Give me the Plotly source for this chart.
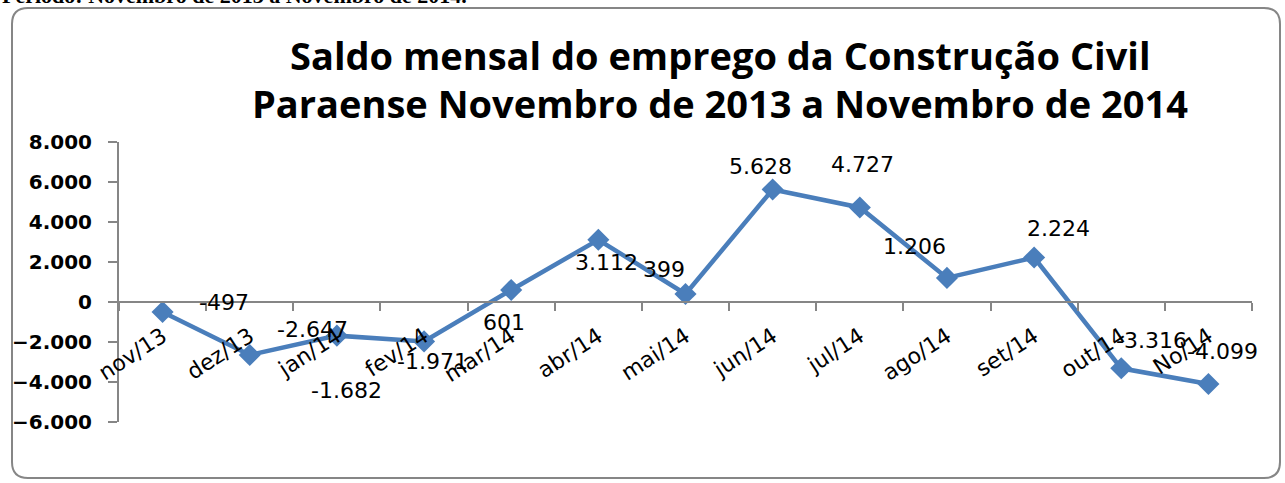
import plotly.graph_objects as go

# dados do grafico
meses = ['nov/13', 'dez/13', 'jan/14', 'fev/14', 'mar/14', 'abr/14', 'mai/14',
         'jun/14', 'jul/14', 'ago/14', 'set/14', 'out/14', 'No/14']
saldo = [-497, -2647, -1682, -1971, 601, 3112, 399, 5628, 4727, 1206, 2224, -3316, -4099]
y_ticks = [-6000, -4000, -2000, 0, 2000, 4000, 6000, 8000]

titulo_1 = 'Saldo mensal do emprego da Construção Civil'
titulo_2 = 'Paraense Novembro de 2013 a Novembro de 2014'
periodo = 'Período: Novembro de 2013 a Novembro de 2014.'

# deslocamento dos rotulos (px, como o Excel deixou)
desloc = [(61, -9), (63, -25), (10, 55), (8, 20), (-7, 33), (8, 23), (-22, -25),
          (-12, -23), (3, -43), (-32, -31), (24, -29), (30, -28), (14, -32)]

W, H = 1285, 483
ml, mr, mt, mb = 119, 33, 142, 61
azul = '#4A7EBB'
cinza = '#868686'


def fmt(v):
    return f'{v:,}'.replace(',', '.')


def px_x(px):
    return (px - ml) / (W - ml - mr)


def px_y(py):
    return (H - mb - py) / (H - mt - mb)


fig = go.Figure()
fig.add_trace(go.Scatter(
    x=meses, y=saldo, mode='lines+markers',
    line=dict(color=azul, width=4.5),
    marker=dict(symbol='diamond', size=17, color=azul),
    showlegend=False, cliponaxis=False))

for m, v, (dx, dy) in zip(meses, saldo, desloc):
    fig.add_annotation(x=m, y=v, text=fmt(v), showarrow=False,
                       xshift=dx, yshift=-dy,
                       font=dict(family='DejaVu Sans', size=22, color='black'))

# titulo em duas linhas
for txt, py in [(titulo_1, 55), (titulo_2, 103)]:
    fig.add_annotation(xref='paper', yref='paper', x=px_x(720), y=px_y(py),
                       xanchor='center', yanchor='middle', showarrow=False, text=txt,
                       font=dict(family='Open Sans', size=38, color='black', weight='bold'))

# texto cortado no topo
fig.add_annotation(xref='paper', yref='paper', x=px_x(0), y=px_y(0),
                   xanchor='left', yanchor='bottom', yshift=-10, showarrow=False,
                   text='<b>' + periodo + '</b>',
                   font=dict(family='Liberation Serif', size=22, color='black'))

# moldura arredondada
x0, x1, y0, y1, r = 12, 1280, 8, 478, 16
path = (f'M {px_x(x0 + r)},{px_y(y0)} L {px_x(x1 - r)},{px_y(y0)} '
        f'Q {px_x(x1)},{px_y(y0)} {px_x(x1)},{px_y(y0 + r)} '
        f'L {px_x(x1)},{px_y(y1 - r)} Q {px_x(x1)},{px_y(y1)} {px_x(x1 - r)},{px_y(y1)} '
        f'L {px_x(x0 + r)},{px_y(y1)} Q {px_x(x0)},{px_y(y1)} {px_x(x0)},{px_y(y1 - r)} '
        f'L {px_x(x0)},{px_y(y0 + r)} Q {px_x(x0)},{px_y(y0)} {px_x(x0 + r)},{px_y(y0)} Z')
fig.add_shape(type='path', path=path, xref='paper', yref='paper',
              line=dict(color=cinza, width=2), layer='below')

ymin, ymax = -6000, 8000
fig.update_layout(
    width=W, height=H,
    margin=dict(l=ml, r=mr, t=mt, b=mb),
    paper_bgcolor='white', plot_bgcolor='white',
    separators=',.',
    xaxis=dict(type='category', range=[-0.5, len(meses) - 0.5],
               anchor='free', position=(0 - ymin) / (ymax - ymin),
               showline=True, linecolor=cinza, linewidth=2,
               ticks='outside', tickson='boundaries', ticklen=8, tickcolor=cinza,
               tickwidth=2, tickangle=-33, showgrid=False, automargin=False,
               ticklabelstandoff=12,
               tickfont=dict(family='DejaVu Sans', size=22, color='black')),
    yaxis=dict(range=[ymin, ymax], tickvals=y_ticks, tickformat=',d',
               showline=True, linecolor=cinza, linewidth=2,
               ticks='outside', ticklen=9, tickcolor=cinza, tickwidth=2,
               showgrid=False, zeroline=False, automargin=False,
               ticklabelstandoff=12,
               tickfont=dict(family='DejaVu Sans', size=20, color='black', weight='bold')),
)

# a pagina tem margem de 8px no body; tira para a figura ocupar a janela toda
fig.write_html('out.html', config={'displayModeBar': False},
               post_script="document.body.style.margin='0';")
